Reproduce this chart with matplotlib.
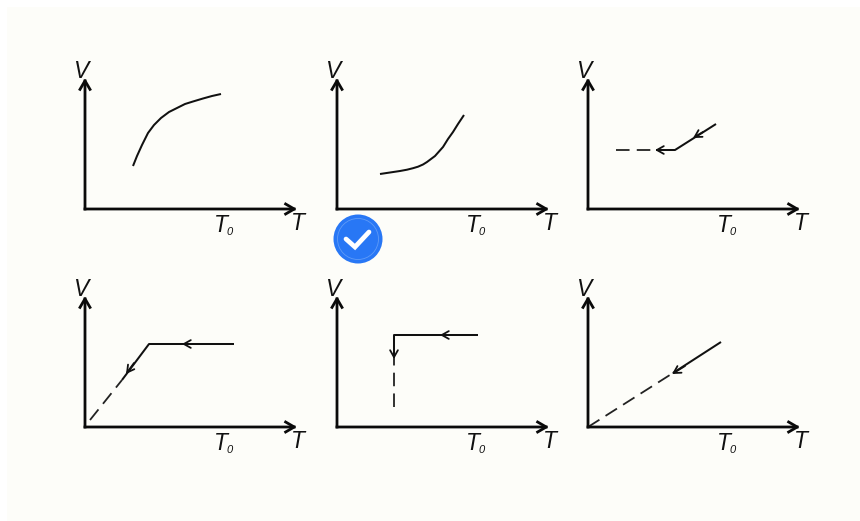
import matplotlib
matplotlib.use('Agg')
import matplotlib.pyplot as plt
from matplotlib.patches import Circle, Rectangle

# panel origins in picture pixels
origins = [(85, 209), (337, 209), (588, 209), (85, 427), (337, 427), (588, 427)]

# solid lines, x/y measured from each panel's origin
solid_1_x = [48, 52, 57, 60, 63, 66, 69, 72, 76, 80, 84, 88, 94, 100, 108, 118, 127, 136]
solid_1_y = [43, 53, 64, 70, 76, 80, 84, 87, 91, 94, 97, 99, 102, 105, 107.5, 110.5, 113, 115]
solid_2_x = [43, 53, 63, 70, 76, 81, 86, 90, 94, 98, 102, 106, 111, 116, 121, 127]
solid_2_y = [35, 36.5, 38, 39.3, 40.8, 42.3, 44.5, 47, 50, 53, 57.5, 62, 70, 77, 85, 94]
solid_3_x = [128, 87, 68]
solid_3_y = [85, 59, 59]
solid_4_x = [149, 64, 37]
solid_4_y = [83, 83, 47]
solid_5_x = [141, 57, 57]
solid_5_y = [92, 92, 70]
solid_6_x = [133, 85]
solid_6_y = [85, 54]
solids = [(solid_1_x, solid_1_y), (solid_2_x, solid_2_y), (solid_3_x, solid_3_y),
          (solid_4_x, solid_4_y), (solid_5_x, solid_5_y), (solid_6_x, solid_6_y)]

# dashed continuations, drawn from the far end so the dash pattern starts there
dashes = [None, None,
          ([28, 68], [59, 59]),
          ([5, 37], [7, 47]),
          ([57, 57], [20, 70]),
          ([0, 85], [0, 54])]

# arrow heads on the lines: (tip x, tip y, tail x, tail y)
heads = [[], [],
         [(105, 71, 115, 77), (67, 59, 80, 59)],
         [(97, 83, 110, 83), (41, 53, 49, 64)],
         [(103, 92, 116, 92), (57, 68, 57, 82)],
         [(84, 53, 97, 61)]]

axis_x_end = 212
axis_y_end = 131

fig = plt.figure(figsize=(8.6, 5.21), dpi=100, facecolor='white')
W, H = 860, 521

bg = fig.add_axes([0, 0, 1, 1])
bg.set_xlim(0, W)
bg.set_ylim(H, 0)
bg.axis('off')
bg.add_patch(Rectangle((7, 7), W - 7, H - 7, color='#fdfdf9', lw=0))


def draw_panel(ox, oy, solid, dash, arrows):
    left, right, down, up = 30, 235, 45, 150
    ax = fig.add_axes([(ox - left) / W, (H - oy - down) / H, (left + right) / W, (down + up) / H])
    ax.set_xlim(-left, right)
    ax.set_ylim(-down, up)
    ax.axis('off')
    ax.patch.set_alpha(0)

    axis_style = dict(arrowstyle='->,head_length=0.62,head_width=0.36', lw=2.0,
                      color='#0a0a0a', shrinkA=0, shrinkB=0, capstyle='projecting')
    ax.annotate('', xy=(axis_x_end, 0), xytext=(0, 0), arrowprops=axis_style)
    ax.annotate('', xy=(0, axis_y_end), xytext=(0, 0), arrowprops=axis_style)

    ax.plot(solid[0], solid[1], color='#111111', lw=1.45, solid_capstyle='butt')
    if dash:
        ax.plot(dash[0], dash[1], color='#222222', lw=1.3, linestyle=(0, (7.5, 4)))
    for tx, ty, sx, sy in arrows:
        ax.annotate('', xy=(tx, ty), xytext=(sx, sy),
                    arrowprops=dict(arrowstyle='->,head_length=0.5,head_width=0.28', lw=1.3,
                                    color='#111111', shrinkA=0, shrinkB=0))

    font = dict(family='Liberation Sans', style='italic', color='#111111', ha='center', va='center')
    ax.text(-4, 137, 'V', fontsize=16.5, **font)
    ax.text(213, -15, 'T', fontsize=16.5, **font)
    ax.text(136, -16, 'T', fontsize=16.5, **font)
    ax.text(145, -23, '0', fontsize=8, **font)


for i in range(6):
    draw_panel(origins[i][0], origins[i][1], solids[i], dashes[i], heads[i])

# check badge under panel two
top = fig.add_axes([0, 0, 1, 1])
top.set_xlim(0, W)
top.set_ylim(H, 0)
top.axis('off')
top.patch.set_alpha(0)
top.add_patch(Circle((358, 239), 24.5, color='#2877f5', lw=0))
top.add_patch(Circle((358, 239), 20.5, fill=False, edgecolor='#5f9bf7', lw=0.6))
top.plot([346, 355, 369], [239, 247, 232], color='white', lw=3.4, solid_capstyle='round',
         solid_joinstyle='miter')

fig.savefig('out.png', dpi=100)
